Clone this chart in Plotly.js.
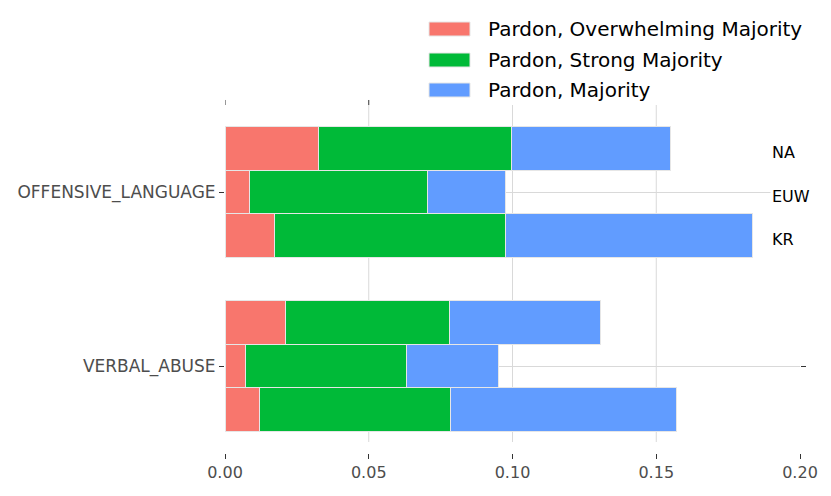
<!DOCTYPE html>
<html>
<head>
<meta charset="utf-8">
<script src="https://cdn.plot.ly/plotly-3.0.1.min.js"></script>
<style>html,body{margin:0;padding:0;background:#fff;}#chart{width:831px;height:496px;}</style>
</head>
<body>
<div id="chart"></div>
<script>
// ---- data ----
var categories = ['OFFENSIVE_LANGUAGE', 'VERBAL_ABUSE'];
var regions = ['NA', 'EUW', 'KR'];
var seriesNames = ['Pardon, Overwhelming Majority', 'Pardon, Strong Majority', 'Pardon, Majority'];
// order: OFFENSIVE_LANGUAGE NA, EUW, KR, VERBAL_ABUSE NA, EUW, KR
var overwhelming = [0.0325, 0.0084, 0.0172, 0.0211, 0.0070, 0.0121];
var strong       = [0.0672, 0.0621, 0.0802, 0.0569, 0.0562, 0.0665];
var majority     = [0.0554, 0.0272, 0.0860, 0.0527, 0.0319, 0.0783];
var xTicks = [0, 0.05, 0.10, 0.15, 0.20];

// ---- layout helpers ----
var colors = ['#F8766D', '#00BA38', '#619CFF'];
var FONT = 'DejaVu Sans, Liberation Sans, sans-serif';
var catPos = [1, 0];              // OFFENSIVE_LANGUAGE on top
var regionOffset = [0.25, 0, -0.25];
var barW = 0.25;

var yPos = [];
categories.forEach(function (c, ci) {
  regions.forEach(function (r, ri) { yPos.push(catPos[ci] + regionOffset[ri]); });
});

var seriesVals = [overwhelming, strong, majority];
var traces = seriesVals.map(function (vals, si) {
  return {
    type: 'bar', orientation: 'h',
    x: vals, y: yPos,
    width: yPos.map(function () { return barW; }),
    name: seriesNames[si],
    marker: { color: colors[si], line: { color: '#e6e6e6', width: 1 } },
    showlegend: false,
    hoverinfo: 'x+name'
  };
});

var shapes = [];
// vertical grid lines (not at 0 / 0.20)
[0.05, 0.10, 0.15].forEach(function (v) {
  shapes.push({ type: 'line', xref: 'x', yref: 'paper', x0: v, x1: v, y0: 0.0316, y1: 1.0,
    line: { color: '#d9d9d9', width: 1 }, layer: 'below' });
});
// legend background box
shapes.push({ type: 'rect', xref: 'paper', yref: 'paper', x0: 0.315, x1: 1.06, y0: 1.0, y1: 1.31,
  fillcolor: '#ffffff', line: { width: 0 }, layer: 'below' });
// small top ticks
[0, 0.05].forEach(function (v) {
  shapes.push({ type: 'line', xref: 'x', yref: 'paper', x0: v, x1: v, y0: 1.0, y1: 1.0144,
    line: { color: '#333333', width: 1 }, layer: 'above' });
});

var annotations = [];
// region labels for the top category
regions.forEach(function (r, ri) {
  annotations.push({ xref: 'x', yref: 'y', x: 0.1896, y: catPos[0] + regionOffset[ri], yshift: -4,
    text: r, showarrow: false, xanchor: 'left', yanchor: 'middle',
    bgcolor: '#ffffff', borderpad: 1,
    font: { family: FONT, size: 16, color: '#000000' } });
});

// manual legend
var legY = [29, 60, 90];
seriesNames.forEach(function (n, si) {
  var yp = (453 - legY[si]) / 348;
  shapes.push({ type: 'rect', xref: 'paper', yref: 'paper',
    x0: (429 - 225) / 575, x1: (470 - 225) / 575,
    y0: yp - 7 / 348, y1: yp + 7 / 348,
    fillcolor: colors[si], line: { color: '#e6e6e6', width: 1 }, layer: 'above' });
  annotations.push({ xref: 'paper', yref: 'paper', x: (486 - 225) / 575, y: yp,
    text: n, showarrow: false, xanchor: 'left', yanchor: 'middle',
    font: { family: FONT, size: 20, color: '#000000' } });
});

var layout = {
  width: 831, height: 496,
  margin: { l: 225, r: 31, t: 105, b: 43, pad: 0 },
  paper_bgcolor: '#ffffff', plot_bgcolor: '#ffffff',
  barmode: 'stack', bargap: 0,
  font: { family: FONT, size: 16, color: '#4d4d4d' },
  xaxis: {
    range: [0, 0.2], tickvals: xTicks, tickformat: '.2f',
    showgrid: false, zeroline: false, showline: false,
    ticks: 'outside', ticklen: 5, tickcolor: '#333333', tickwidth: 1,
    tickfont: { family: FONT, size: 16, color: '#4d4d4d' }
  },
  yaxis: {
    range: [-0.5, 1.5], tickvals: catPos, ticktext: categories,
    showgrid: true, gridcolor: '#d9d9d9', gridwidth: 1,
    zeroline: false, showline: false,
    ticks: 'outside', ticklen: 5, tickcolor: '#333333', tickwidth: 1, mirror: 'ticks',
    tickfont: { family: FONT, size: 17, color: '#4d4d4d' }
  },
  shapes: shapes,
  annotations: annotations,
  showlegend: false
};

Plotly.newPlot('chart', traces, layout, { displayModeBar: false, staticPlot: true });
</script>
</body>
</html>
